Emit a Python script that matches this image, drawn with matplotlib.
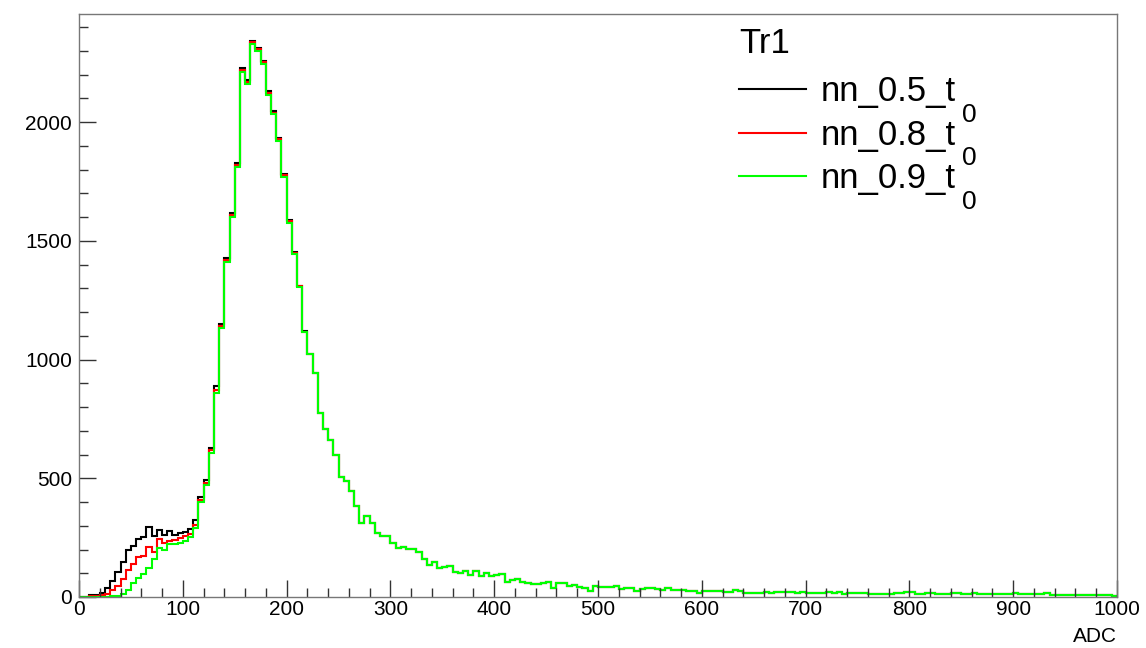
import numpy as np
import matplotlib
matplotlib.use('Agg')
import matplotlib.pyplot as plt
from matplotlib.ticker import MultipleLocator

# ADC histogram, 200 bins of width 5 from 0 to 1000
bin_width = 5
x_min, x_max = 0, 1000

# nn_0.9_t0 (green) - full spectrum
green_counts = [
    0, 0, 0, 1, 2, 2, 3, 5, 11, 30,
    57, 79, 97, 121, 158, 205, 200, 222, 225, 228,
    235, 252, 290, 400, 471, 608, 860, 1132, 1412, 1602,
    1812, 2212, 2162, 2327, 2298, 2243, 2116, 2033, 1921, 1770,
    1577, 1446, 1304, 1115, 1022, 942, 773, 708, 663, 598,
    505, 488, 446, 384, 312, 342, 312, 268, 257, 258,
    226, 205, 209, 201, 201, 188, 158, 135, 146, 121,
    128, 132, 107, 100, 111, 93, 111, 88, 102, 88,
    93, 95, 65, 72, 74, 65, 58, 53, 53, 58,
    65, 39, 58, 58, 46, 50, 43, 40, 27, 46,
    43, 43, 43, 46, 32, 39, 36, 25, 32, 39,
    39, 32, 29, 36, 29, 29, 29, 27, 27, 15,
    25, 25, 27, 27, 20, 20, 29, 27, 18, 18,
    18, 18, 22, 15, 20, 20, 22, 22, 15, 20,
    15, 18, 18, 18, 22, 15, 22, 13, 15, 15,
    15, 15, 13, 13, 13, 13, 13, 15, 15, 20,
    20, 13, 13, 15, 15, 13, 13, 13, 15, 15,
    13, 13, 18, 11, 11, 11, 13, 13, 13, 13,
    18, 11, 11, 11, 11, 11, 15, 10, 10, 10,
    8, 8, 8, 8, 8, 8, 8, 7, 7, 4,
]

# first 44 bins (0-220 ADC) where the three thresholds differ;
# above that the curves coincide with the green one
red_low = [
    0, 0, 4, 6, 10, 13, 30, 46, 74, 114,
    138, 168, 173, 212, 191, 246, 226, 234, 241, 248,
    255, 265, 303, 410, 482, 618, 872, 1140, 1420, 1610,
    1820, 2220, 2170, 2335, 2306, 2251, 2124, 2040, 1927, 1776,
    1582, 1450, 1308, 1118,
]
black_low = [
    0, 0, 8, 8, 18, 37, 69, 107, 149, 196,
    215, 243, 252, 293, 255, 283, 262, 276, 262, 269,
    274, 285, 324, 421, 493, 629, 888, 1149, 1427, 1617,
    1827, 2227, 2177, 2342, 2313, 2258, 2130, 2046, 1933, 1781,
    1587, 1454, 1311, 1120,
]

series_labels = ['nn_0.5_t', 'nn_0.8_t', 'nn_0.9_t']
label_subscript = '0'
series_colors = ['#000000', '#ff0000', '#00ff00']
legend_title = 'Tr1'
x_label = 'ADC'

plt.rcParams['font.family'] = ['Liberation Sans', 'DejaVu Sans']

edges = np.arange(x_min, x_max + bin_width, bin_width)
n_low = len(black_low)
black_counts = black_low + green_counts[n_low:]
red_counts = red_low + green_counts[n_low:]

fig = plt.figure(figsize=(11.46, 6.48), dpi=100)
ax = fig.add_axes([79 / 1146, 51 / 648, 1038 / 1146, 583 / 648])

handles = []
for counts, color in zip([black_counts, red_counts, green_counts], series_colors):
    ax.stairs(counts, edges, color=color, linewidth=1.5)
    handles.append(plt.Line2D([], [], color=color, linewidth=1.5))

ax.set_xlim(x_min, x_max)
ax.set_ylim(0, 2455)

ax.xaxis.set_major_locator(MultipleLocator(100))
ax.xaxis.set_minor_locator(MultipleLocator(20))
ax.yaxis.set_major_locator(MultipleLocator(500))
ax.yaxis.set_minor_locator(MultipleLocator(100))
ax.tick_params(which='both', direction='in', top=False, right=False, labelsize=15)
ax.tick_params(which='major', length=12, width=1, color='#333333')
ax.tick_params(which='minor', length=6.5, width=1, color='#333333')
ax.tick_params(axis='x', pad=2)
ax.tick_params(axis='y', pad=5)
for spine in ax.spines.values():
    spine.set_color('#777777')
    spine.set_linewidth(1)

ax.set_xlabel(x_label, loc='right', fontsize=15, labelpad=6)

leg = ax.legend(handles, series_labels, title=legend_title, loc='upper left',
                bbox_to_anchor=(0.636, 0.978), frameon=False, fontsize=25,
                title_fontsize=25, alignment='left', handlelength=1.93,
                handletextpad=0.43, labelspacing=0.3, borderpad=0,
                borderaxespad=0)
# a bit more room between the title and the entries
leg._legend_box.sep = 0.3 * 25 + 3.6

# ROOT-style t_0 : subscript hanging below the label baseline
for txt in leg.get_texts():
    ax.annotate(label_subscript, xy=(1, 0), xycoords=txt, xytext=(4, 4),
                textcoords='offset points', ha='left', va='top',
                fontsize=19, zorder=10)

fig.savefig('out.png', dpi=100)
